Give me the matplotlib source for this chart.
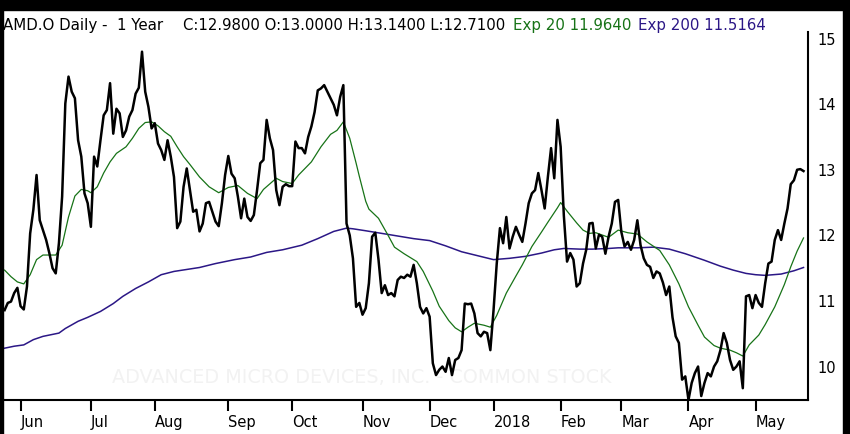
import numpy as np
import pandas as pd
import matplotlib
matplotlib.use("Agg")
import matplotlib.pyplot as plt
from matplotlib.patches import Rectangle

# AMD.O daily closes, 24 May 2017 .. 22 May 2018 (one value per trading day)
close = [
    10.86, 10.97, 10.99, 11.12, 11.20, 10.92, 10.87, 11.22, 12.03, 12.39,
    12.92, 12.23, 12.08, 11.93, 11.73, 11.50, 11.42, 11.88, 12.59, 14.01,
    14.42, 14.19, 14.09, 13.45, 13.20, 12.64, 12.49, 12.13, 13.20, 13.05,
    13.45, 13.83, 13.91, 14.32, 13.55, 13.93, 13.86, 13.50, 13.60, 13.81,
    13.91, 14.16, 14.25, 14.80, 14.19, 13.96, 13.63, 13.71, 13.40, 13.30,
    13.15, 13.45, 13.20, 12.89, 12.11, 12.21, 12.74, 13.02, 12.69, 12.36,
    12.39, 12.06, 12.18, 12.49, 12.51, 12.36, 12.21, 12.14, 12.49, 12.92,
    13.21, 12.94, 12.87, 12.59, 12.26, 12.56, 12.28, 12.22, 12.31, 12.69,
    13.10, 13.15, 13.76, 13.48, 13.30, 12.69, 12.46, 12.74, 12.78, 12.75,
    12.75, 13.43, 13.33, 13.33, 13.25, 13.50, 13.66, 13.88, 14.21, 14.24,
    14.29, 14.19, 14.09, 13.99, 13.83, 14.11, 14.29, 12.18, 12.00, 11.65,
    10.91, 10.97, 10.79, 10.89, 11.27, 11.98, 12.04, 11.63, 11.12, 11.24,
    11.09, 11.12, 11.07, 11.32, 11.37, 11.35, 11.40, 11.37, 11.55, 11.27,
    10.91, 10.81, 10.89, 10.76, 10.05, 9.87, 9.95, 10.00, 9.92, 10.13,
    9.87, 10.10, 10.13, 10.25, 10.96, 10.95, 10.96, 10.81, 10.51, 10.46,
    10.53, 10.51, 10.25, 10.86, 11.57, 12.11, 11.88, 12.28, 11.80, 11.98,
    12.13, 12.01, 11.90, 12.18, 12.49, 12.64, 12.69, 12.95, 12.69, 12.41,
    12.89, 13.33, 12.87, 13.76, 13.35, 12.30, 11.60, 11.73, 11.63, 11.22,
    11.27, 11.57, 11.78, 12.18, 12.19, 11.80, 12.01, 11.98, 11.72, 11.98,
    12.18, 12.51, 12.54, 12.05, 11.83, 11.90, 11.78, 11.93, 12.23, 11.85,
    11.65, 11.55, 11.52, 11.35, 11.45, 11.42, 11.28, 11.09, 11.22, 10.75,
    10.46, 10.36, 9.80, 9.85, 9.49, 9.75, 9.90, 10.00, 9.55, 9.75,
    9.90, 9.85, 10.00, 10.08, 10.25, 10.51, 10.36, 10.10, 9.95, 10.00,
    10.08, 9.67, 11.07, 11.09, 10.89, 11.09, 10.97, 10.91, 11.27, 11.57,
    11.60, 11.93, 12.08, 11.93, 12.18, 12.41, 12.78, 12.84, 13.00, 13.01,
    12.98,
]

# Exp 20 (trading-day number, value)
ema20_day = [0, 2, 4, 6, 8, 10, 12, 14, 16, 18, 20, 22, 24, 26, 27, 29, 31, 33,
             35, 38, 40, 42, 44, 46, 48, 50, 52, 54, 56, 58, 61, 64, 67, 70, 73,
             76, 79, 81, 85, 87, 90, 92, 96, 99, 102, 104, 106, 108, 110, 111,
             113, 114, 117, 120, 122, 125, 127, 129, 131, 134, 136, 139, 141,
             143, 145, 147, 150, 152, 154, 157, 160, 162, 165, 168, 170, 173,
             174, 176, 179, 181, 183, 185, 189, 192, 195, 198, 201, 205, 208,
             211, 214, 217, 219, 222, 224, 227, 229, 231, 233, 236, 238, 241,
             244, 246, 248, 250]
ema20 = [11.47, 11.37, 11.29, 11.26, 11.40, 11.63, 11.70, 11.70, 11.70, 11.85,
         12.28, 12.60, 12.70, 12.68, 12.65, 12.74, 12.95, 13.12, 13.25, 13.35,
         13.48, 13.63, 13.72, 13.73, 13.67, 13.58, 13.51, 13.35, 13.20, 13.08,
         12.89, 12.74, 12.65, 12.73, 12.76, 12.64, 12.56, 12.70, 12.87, 12.82,
         12.79, 12.92, 13.12, 13.35, 13.54, 13.60, 13.73, 13.48, 13.10, 12.90,
         12.52, 12.40, 12.26, 12.00, 11.82, 11.72, 11.66, 11.60, 11.45, 11.15,
         10.92, 10.70, 10.59, 10.53, 10.60, 10.66, 10.63, 10.60, 10.78, 11.12,
         11.38, 11.55, 11.83, 12.05, 12.20, 12.42, 12.50, 12.37, 12.19, 12.08,
         12.03, 12.04, 11.97, 12.08, 12.04, 12.02, 11.90, 11.77, 11.55, 11.26,
         10.91, 10.63, 10.45, 10.32, 10.28, 10.25, 10.21, 10.16, 10.33, 10.48,
         10.64, 10.91, 11.25, 11.52, 11.76, 11.96]

# Exp 200
ema200_day = [0, 3, 6, 9, 12, 17, 19, 23, 26, 30, 34, 37, 41, 45, 49, 53, 57,
              61, 66, 72, 77, 82, 87, 93, 98, 103, 107, 109, 113, 118, 123,
              128, 133, 138, 143, 148, 153, 158, 163, 168, 172, 175, 180, 184,
              189, 192, 198, 203, 208, 213, 219, 224, 228, 232, 235, 238, 243,
              247, 250]
ema200 = [10.28, 10.31, 10.33, 10.41, 10.46, 10.51, 10.58, 10.69, 10.75, 10.84,
          10.96, 11.07, 11.19, 11.29, 11.40, 11.45, 11.48, 11.51, 11.57, 11.63,
          11.67, 11.74, 11.78, 11.85, 11.95, 12.06, 12.11, 12.10, 12.07, 12.03,
          11.99, 11.95, 11.92, 11.84, 11.75, 11.69, 11.63, 11.65, 11.68, 11.73,
          11.78, 11.80, 11.79, 11.79, 11.80, 11.81, 11.81, 11.82, 11.79, 11.72,
          11.62, 11.53, 11.47, 11.42, 11.40, 11.39, 11.41, 11.46, 11.51]

holidays = ['2017-05-29', '2017-07-04', '2017-09-04', '2017-11-23', '2017-12-25',
            '2018-01-01', '2018-01-15', '2018-02-19', '2018-03-30']
dates = pd.bdate_range('2017-05-24', '2018-05-22', freq='C', holidays=holidays)
x = np.arange(len(close))

# first trading day of each month -> tick
pos = pd.Series(np.arange(len(dates)), index=dates)
first = pos.groupby([dates.year, dates.month]).first().iloc[1:]
tick_pos = first.values
tick_lab = []
for (yr, mo) in first.index:
    if mo == 1:
        tick_lab.append(str(yr))
    else:
        tick_lab.append(pd.Timestamp(yr, mo, 1).strftime('%b'))

green = '#177317'
purple = '#2b1786'

fig = plt.figure(figsize=(8.5, 4.34), dpi=100)
ax = fig.add_axes([3 / 850, 1 - 400 / 434, 805 / 850, 368 / 434])

ax.text(0.446, 0.06, 'ADVANCED MICRO DEVICES, INC. - COMMON STOCK',
        transform=ax.transAxes, ha='center', va='center', fontsize=13.8,
        color='#f2f2f2', zorder=0)

ax.plot(ema200_day, ema200, color=purple, lw=1.1, zorder=2)
ax.plot(ema20_day, ema20, color=green, lw=0.9, zorder=3)
ax.plot(x, close, color='black', lw=1.8, zorder=4)

ax.set_xlim(-0.5, 251.4)
ax.set_ylim(9.49, 15.10)

ax.spines['top'].set_visible(False)
ax.spines['left'].set_visible(False)
ax.spines['right'].set_linewidth(1.5)
ax.spines['bottom'].set_linewidth(1.5)

ax.yaxis.tick_right()
ax.set_yticks([10, 11, 12, 13, 14, 15])
ax.tick_params(axis='y', length=0, pad=7, labelsize=10.5)
ax.set_xticks(tick_pos)
ax.set_xticklabels(tick_lab)
ax.tick_params(axis='x', length=8, width=1.5, pad=3, labelsize=10.5)
for lbl in ax.get_xticklabels():
    lbl.set_ha('left')

# header
hy = 1 - 30 / 434
fig.text(3 / 850, hy, 'AMD.O Daily -  1 Year', fontsize=10.8, va='baseline')
fig.text(183 / 850, hy, 'C:12.9800 O:13.0000 H:13.1400 L:12.7100', fontsize=10.7, va='baseline')
fig.text(513 / 850, hy, 'Exp 20 11.9640', fontsize=10.8, va='baseline', color=green)
fig.text(638 / 850, hy, 'Exp 200 11.5164', fontsize=10.8, va='baseline', color=purple)

# black frame edges
fig.add_artist(Rectangle((0, 1 - 10 / 434), 1, 10 / 434, transform=fig.transFigure, color='black'))
fig.add_artist(Rectangle((0, 0), 3 / 850, 1, transform=fig.transFigure, color='black'))
fig.add_artist(Rectangle((843 / 850, 0), 7 / 850, 1, transform=fig.transFigure, color='black'))

fig.savefig('out.png', dpi=100)
